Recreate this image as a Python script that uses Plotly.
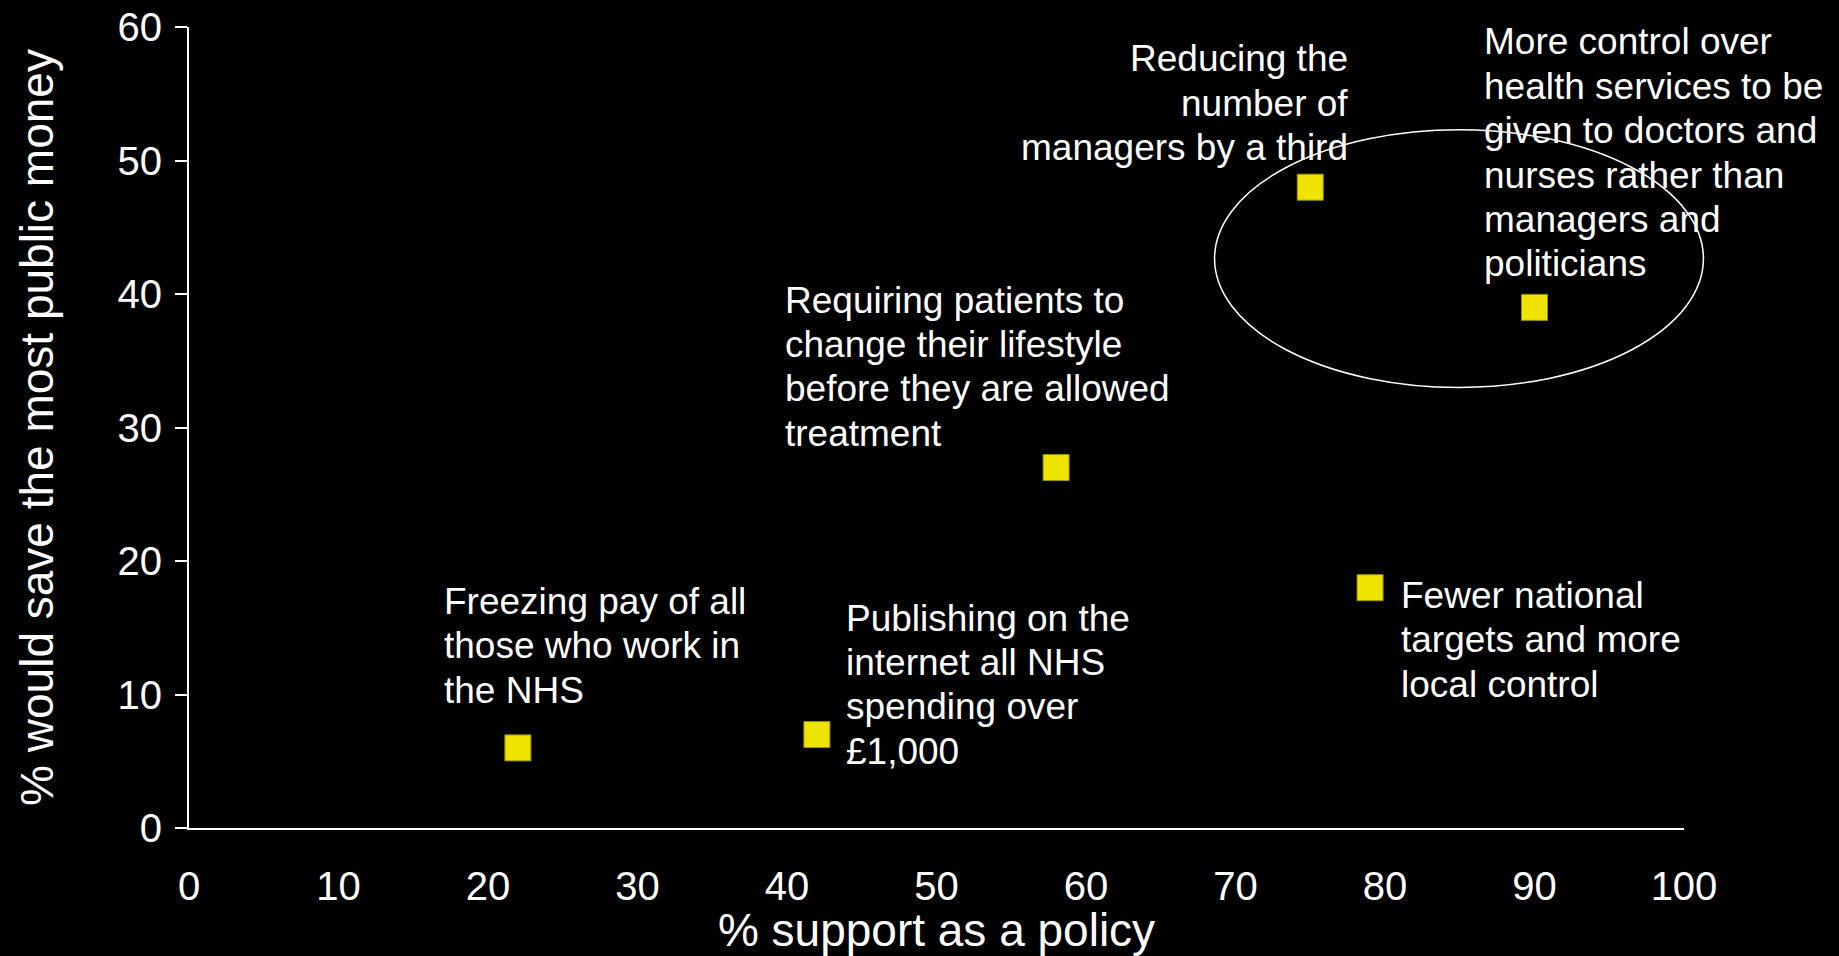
import plotly.graph_objects as go

# ---- data ----
policies = [
    "Freezing pay of all<br>those who work in<br>the NHS",
    "Publishing on the<br>internet all NHS<br>spending over<br>£1,000",
    "Requiring patients to<br>change their lifestyle<br>before they are allowed<br>treatment",
    "Reducing the<br>number of<br>managers by a third",
    "More control over<br>health services to be<br>given to doctors and<br>nurses rather than<br>managers and<br>politicians",
    "Fewer national<br>targets and more<br>local control",
]
support_pct = [22, 42, 58, 75, 90, 79]
save_money_pct = [6, 7, 27, 48, 39, 18]

x_ticks = [0, 10, 20, 30, 40, 50, 60, 70, 80, 90, 100]
y_ticks = [0, 10, 20, 30, 40, 50, 60]

# label placement relative to each point (pixels): (xanchor, align, xshift, yshift of first line)
label_place = [
    ("left", "left", -76, 169),
    ("left", "left", 27, 139),
    ("left", "left", -273, 190),
    ("right", "right", 40, 151),
    ("left", "left", -53, 288),
    ("left", "left", 29, 15),
]
LINE_STEP = 44.4  # px between label lines (1.2 line spacing)

# highlighted group (ellipse) bounds in data units
ell_x = [68.6, 101.3]
ell_y = [33.0, 52.3]

FONT = "Liberation Sans, Arial, Helvetica, sans-serif"
X_RANGE = [0, 100]
Y_RANGE = [0, 60]

fig = go.Figure()
fig.add_trace(go.Scatter(
    x=support_pct, y=save_money_pct, mode="markers",
    marker=dict(symbol="square", size=26, color="#EEE400",
                line=dict(color="#9A9000", width=1)),
    hoverinfo="skip", showlegend=False,
))

for txt, xv, yv, (xa, al, xs, ys) in zip(policies, support_pct, save_money_pct, label_place):
    for i, line in enumerate(txt.split("<br>")):
        fig.add_annotation(
            x=xv, y=yv, xref="x", yref="y", text=line, showarrow=False,
            xanchor=xa, yanchor="top", align=al, xshift=xs, yshift=ys - i * LINE_STEP,
            font=dict(family=FONT, size=37, color="white"),
        )

# ellipse (converted from data units to paper so it is not clipped at x=100)
fig.add_shape(
    type="circle", xref="paper", yref="paper",
    x0=(ell_x[0] - X_RANGE[0]) / (X_RANGE[1] - X_RANGE[0]),
    x1=(ell_x[1] - X_RANGE[0]) / (X_RANGE[1] - X_RANGE[0]),
    y0=(ell_y[0] - Y_RANGE[0]) / (Y_RANGE[1] - Y_RANGE[0]),
    y1=(ell_y[1] - Y_RANGE[0]) / (Y_RANGE[1] - Y_RANGE[0]),
    line=dict(color="white", width=1.5), layer="above",
)

fig.update_layout(
    width=1839, height=956,
    paper_bgcolor="black", plot_bgcolor="black",
    margin=dict(l=189, r=155, t=27, b=128),
    font=dict(family=FONT, color="white"),
    hovermode=False,
    xaxis=dict(
        range=X_RANGE, tickvals=x_ticks, ticktext=[str(v) for v in x_ticks],
        showline=True, linecolor="white", linewidth=2, ticks="",
        showgrid=False, zeroline=False, automargin=False,
        ticklabelstandoff=22,
        tickfont=dict(size=40, color="white", family=FONT),
        title=dict(text="% support as a policy", standoff=7,
                   font=dict(size=46, color="white", family=FONT)),
    ),
    yaxis=dict(
        range=Y_RANGE, tickvals=y_ticks, ticktext=[str(v) for v in y_ticks],
        showline=True, linecolor="white", linewidth=2,
        ticks="outside", ticklen=12, tickwidth=2, tickcolor="white",
        showgrid=False, zeroline=False, automargin=False,
        ticklabelstandoff=5,
        tickfont=dict(size=40, color="white", family=FONT),
        title=dict(text="% would save the most public money", standoff=49,
                   font=dict(size=46, color="white", family=FONT)),
    ),
)

fig.write_html(
    "out.html",
    config={"displayModeBar": False},
    post_script="document.body.style.margin='0';document.body.style.background='black';",
)
